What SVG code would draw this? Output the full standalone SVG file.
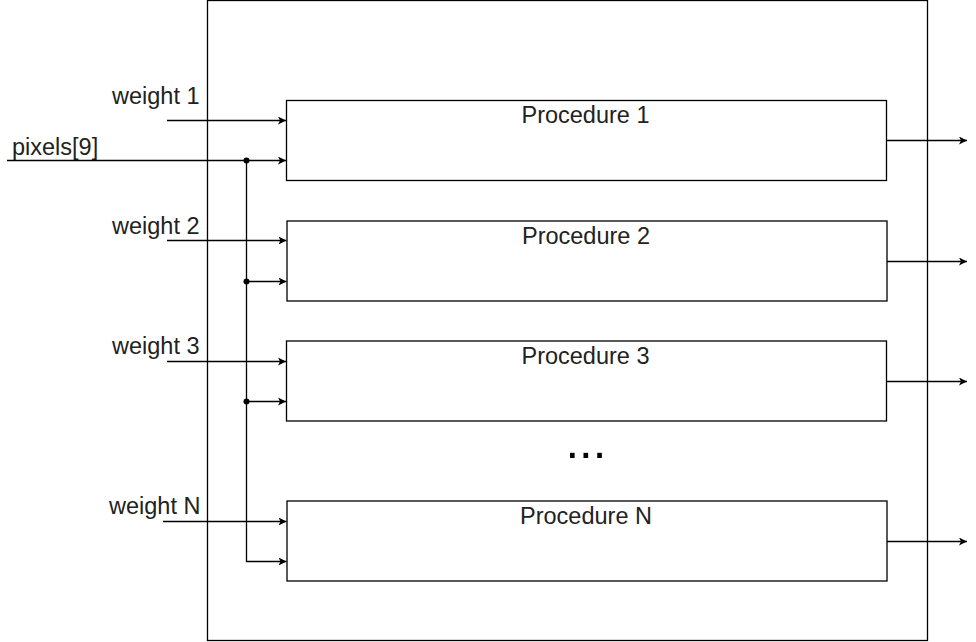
<svg xmlns="http://www.w3.org/2000/svg" width="976" height="642" viewBox="0 0 976 642">
<style>
.box{fill:#fff;stroke:#000;stroke-width:1.3}
.ln{fill:none;stroke:#000;stroke-width:1.3}
.t{font-family:"Liberation Sans",Arial,sans-serif;font-size:23.5px;fill:#222}
.c{text-anchor:middle}
</style>
<defs>
<marker id="ar" viewBox="0 0 10 10" refX="10" refY="5" markerWidth="8" markerHeight="8" markerUnits="userSpaceOnUse" orient="auto">
<path d="M0,0 L10,5 L0,10 L2.5,5 Z" fill="#000"/>
</marker>
</defs>
<rect fill="#fff" width="976" height="642"/>
<g id="outer"><rect class="box" x="207.5" y="0.5" width="720" height="640"/></g>
<g id="proc1"><rect class="box" x="286.5" y="100.5" width="600" height="80"/><text class="t c" x="585.5" y="123">Procedure 1</text></g>
<g id="proc2"><rect class="box" x="287" y="221" width="600" height="80"/><text class="t c" x="586" y="244">Procedure 2</text></g>
<g id="proc3"><rect class="box" x="286.5" y="341" width="600" height="80"/><text class="t c" x="585.5" y="364">Procedure 3</text></g>
<g id="procN"><rect class="box" x="287" y="501" width="600" height="80"/><text class="t c" x="586" y="524">Procedure N</text></g>
<g id="dots"><text x="565.5" y="457.5" style="font-family:'Liberation Sans',Arial,sans-serif;font-size:49px;fill:#000">...</text></g>
<g id="labels">
<text class="t" x="112" y="104">weight 1</text>
<text class="t" x="12" y="155">pixels[9]</text>
<text class="t" x="112" y="234">weight 2</text>
<text class="t" x="112" y="354">weight 3</text>
<text class="t" x="109" y="514">weight N</text>
</g>
<g id="connectors">
<path class="ln" d="M167,120.5 H286" marker-end="url(#ar)"/>
<path class="ln" d="M7,160.5 H286" marker-end="url(#ar)"/>
<path class="ln" d="M167,240.5 H286.5" marker-end="url(#ar)"/>
<path class="ln" d="M167,361.5 H286" marker-end="url(#ar)"/>
<path class="ln" d="M163,521.5 H286.5" marker-end="url(#ar)"/>
<path class="ln" d="M246.5,160.5 V561.5 H286.5" marker-end="url(#ar)"/>
<path class="ln" d="M246.5,281.5 H286.5" marker-end="url(#ar)"/>
<path class="ln" d="M246.5,401.5 H286" marker-end="url(#ar)"/>
<circle cx="246.5" cy="160.5" r="3"/>
<circle cx="246.5" cy="281.5" r="3"/>
<circle cx="246.5" cy="401.5" r="3"/>
<path class="ln" d="M886.5,140.5 H967" marker-end="url(#ar)"/>
<path class="ln" d="M887,261.5 H967" marker-end="url(#ar)"/>
<path class="ln" d="M886.5,381.5 H967" marker-end="url(#ar)"/>
<path class="ln" d="M887,541.5 H967" marker-end="url(#ar)"/>
</g>
</svg>
